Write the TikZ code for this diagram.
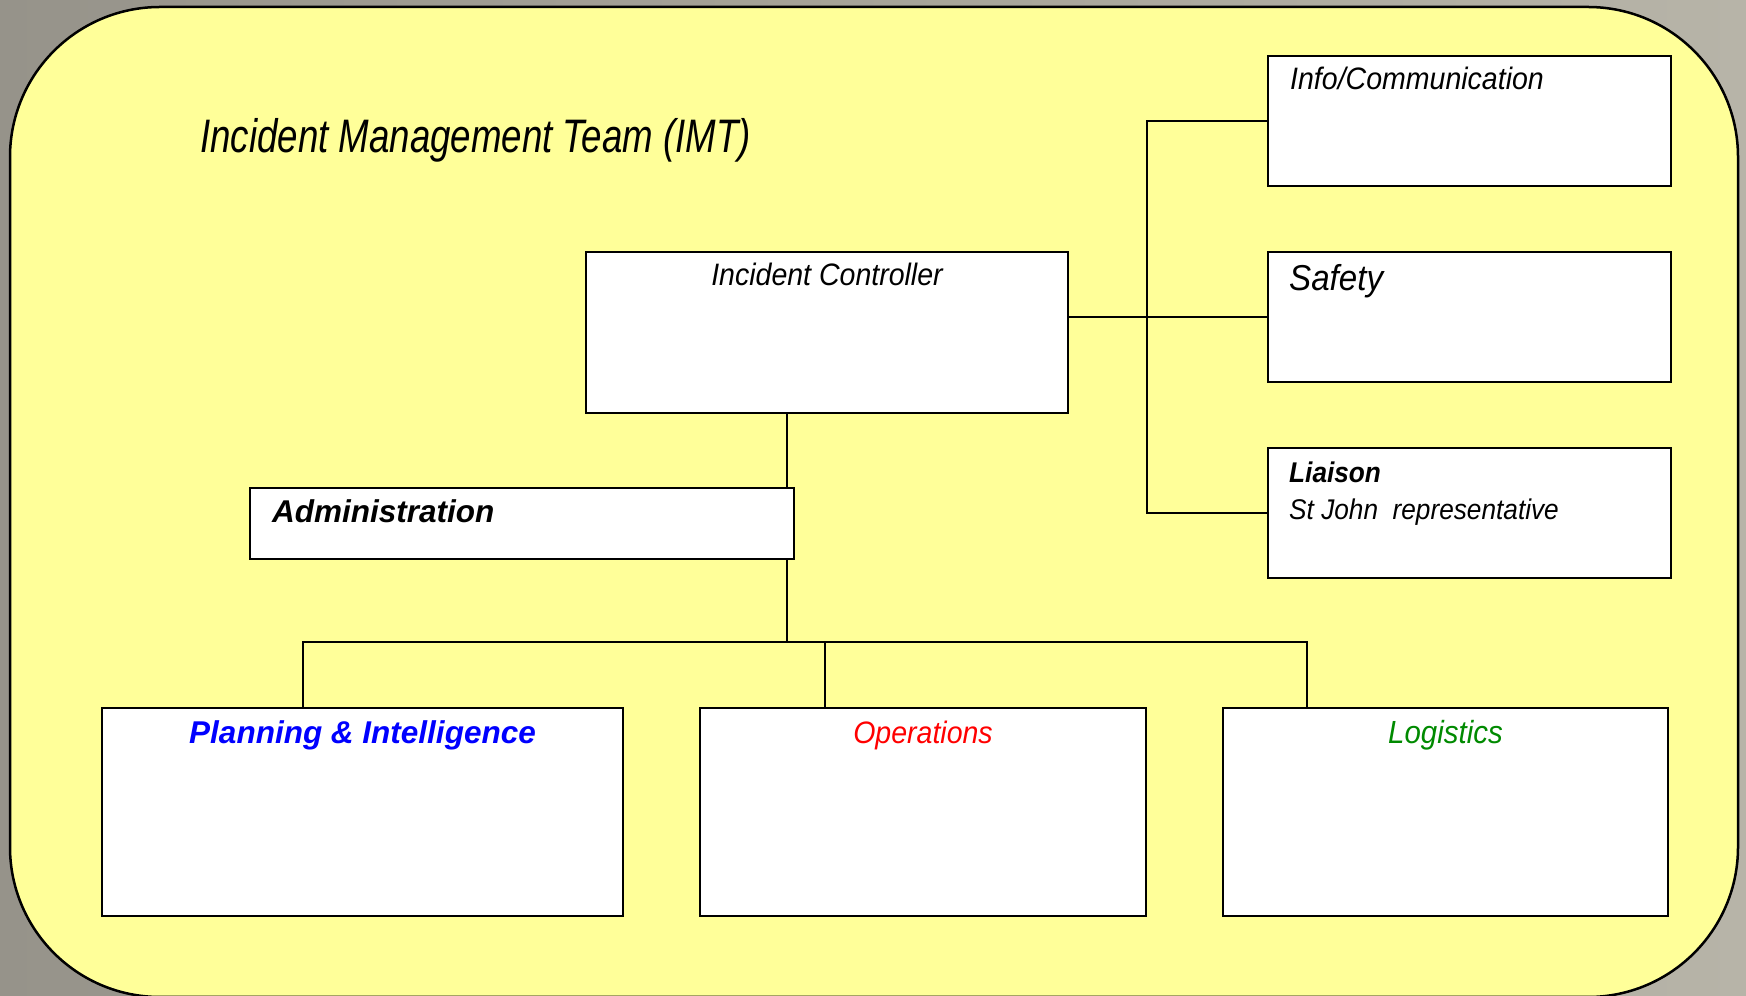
\documentclass[tikz,border=0pt]{standalone}
\usepackage{fontspec}
\setmainfont{Liberation Sans}
\newfontfamily\narrowfont[FakeStretch=0.78]{Liberation Sans}
\newfontfamily\labelfont[FakeStretch=0.92]{Liberation Sans}
\usepackage{tikz}
\usetikzlibrary{positioning}

\definecolor{padyellow}{HTML}{FFFF99}
\definecolor{bgdark}{HTML}{96938A}
\definecolor{bglight}{HTML}{B7B4A8}
\definecolor{plangreen}{HTML}{008A00}

\tikzset{
  orgbox/.style={draw, fill=white, line width=2pt, anchor=north west, inner sep=0pt},
  lbl/.style={inner sep=0pt, font=\labelfont\itshape\fontsize{31}{37}\selectfont},
  blbl/.style={inner sep=0pt, font=\bfseries\itshape\fontsize{31.5}{38}\selectfont},
  wire/.style={line width=1.8pt}
}

\begin{document}
\begin{tikzpicture}[x=1pt, y=1pt]

\useasboundingbox (0,0) rectangle (1746,996);
\shade [left color=bgdark, right color=bglight] (0,0) rectangle (1746,996);

% the team area
\draw [fill=padyellow, line width=2.5pt, rounded corners=150pt] (10,989) rectangle (1738,-1);

\node [anchor=base west, inner sep=0pt, font=\narrowfont\itshape\fontsize{47}{56}\selectfont] (title) at (200,843) {Incident Management Team (IMT)};

% boxes
\node [orgbox, minimum width=482pt, minimum height=161pt] (ic) at (585,745) {};
\node [orgbox, minimum width=403pt, minimum height=130pt] (info) at (1267,941) {};
\node [orgbox, minimum width=403pt, minimum height=130pt] (safety) at (1267,745) {};
\node [orgbox, minimum width=403pt, minimum height=130pt] (liaison) at (1267,549) {};
\node [orgbox, minimum width=544pt, minimum height=71pt] (adm) at (249,509) {};
\node [orgbox, minimum width=521pt, minimum height=208pt] (plan) at (101,289) {};
\node [orgbox, minimum width=446pt, minimum height=208pt] (ops) at (699,289) {};
\node [orgbox, minimum width=445pt, minimum height=208pt] (log) at (1222,289) {};

% labels
\node [lbl, anchor=base] (ictext) at ([yshift=-35pt]ic.north) {Incident Controller};
\node [lbl, anchor=base west] (infotext) at ([shift={(23pt,-35pt)}]info.north west) {Info/Communication};
\node [lbl, anchor=base west, font=\labelfont\itshape\fontsize{36}{43}\selectfont] (safetytext) at ([shift={(22pt,-40pt)}]safety.north west) {Safety};
\node [blbl, anchor=base west, font=\labelfont\bfseries\itshape\fontsize{28.5}{34}\selectfont] (liaisontext) at ([shift={(22pt,-36pt)}]liaison.north west) {Liaison};
\node [lbl, anchor=base west, font=\labelfont\itshape\fontsize{28.5}{34}\selectfont] (stjohn) at ([shift={(22pt,-73pt)}]liaison.north west) {St John\ \ representative};
\node [blbl, anchor=base west] (admtext) at ([shift={(23pt,-36pt)}]adm.north west) {Administration};
\node [blbl, anchor=base, text=blue] (plantext) at ([yshift=-37pt]plan.north) {Planning \& Intelligence};
\node [lbl, anchor=base, text=red] (opstext) at ([yshift=-37pt]ops.north) {Operations};
\node [lbl, anchor=base, text=plangreen, font=\labelfont\itshape\fontsize{32}{38}\selectfont] (logtext) at ([yshift=-37pt]log.north) {Logistics};

% connectors
\coordinate (bus) at (787,354);
\coordinate (busL) at (303,354);
\coordinate (busM) at (825,354);
\coordinate (busR) at (1307,354);
\coordinate (spine) at (1147,680);

\draw [wire] (ic.south -| bus) -- (adm.north -| bus);
\draw [wire] (adm.south -| bus) -- (bus);
\draw [wire] (plan.north -| busL) -- (busL) -- (busR) -- (log.north -| busR);
\draw [wire] (busM) -- (ops.north -| busM);

\draw [wire] (ic.east |- safety.west) -- (safety.west);
\draw [wire] (info.west) -| (spine) |- (liaison.west);

\end{tikzpicture}
\end{document}
